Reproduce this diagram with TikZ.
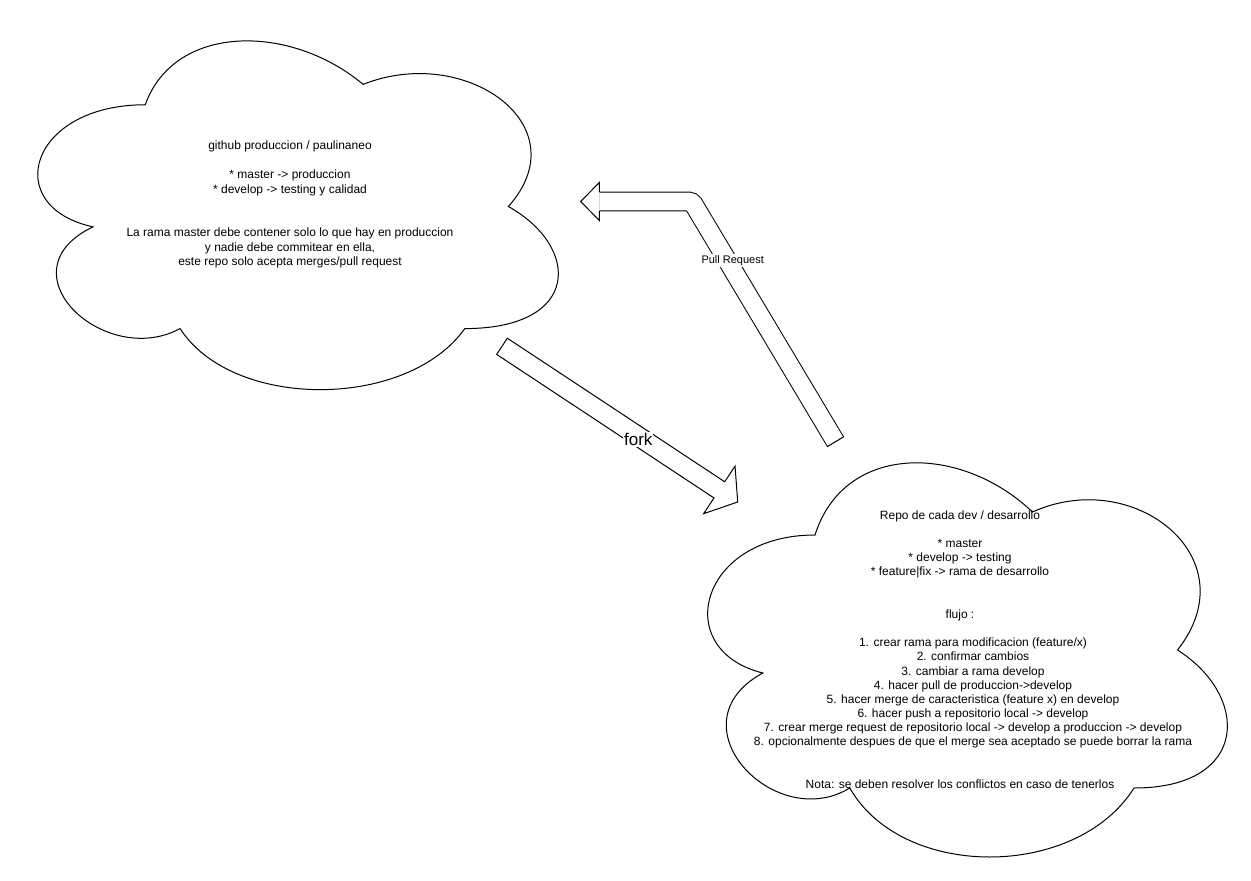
\documentclass[tikz,border=0pt]{standalone}
\usepackage{fontspec}
\setmainfont{Liberation Sans}
\usetikzlibrary{calc}

\tikzset{
  cloudline/.style={draw=black, line width=1pt, fill=white},
  cloudtext/.style={align=center, inner sep=0pt},
  arrowbody/.style={draw=black, line width=1pt, fill=white, line join=miter},
  lbl/.style={fill=white, inner sep=1pt},
}

\newcommand\drawiocloud[1]{%
  \path[cloudline,#1] (0.25,0.25) .. controls (0.05,0.25) and (0,0.5) .. (0.16,0.55)
    .. controls (0,0.66) and (0.18,0.9) .. (0.31,0.8)
    .. controls (0.4,1) and (0.7,1) .. (0.8,0.8)
    .. controls (1,0.8) and (1,0.6) .. (0.875,0.5)
    .. controls (1,0.3) and (0.8,0.1) .. (0.625,0.2)
    .. controls (0.5,0.05) and (0.3,0.05) .. (0.25,0.25) -- cycle;}

\begin{document}
\begin{tikzpicture}[x=1pt, y=-1pt]
\fill[white] (0,0) rectangle (1251,881);
\useasboundingbox (0,0) rectangle (1251,881);

% clouds
\drawiocloud{shift={(0,3)}, xscale=581, yscale=407}
\drawiocloud{shift={(670,420)}, xscale=580, yscale=460}

\node[cloudtext, font=\fontsize{12}{14.5}\selectfont] (prodtext) at (290,204.7) {%
github produccion / paulinaneo\\
\mbox{}\\
* master -> produccion\\
* develop -> testing y calidad\\
\mbox{}\\
\mbox{}\\
La rama master debe contener solo lo que hay en produccion\\
y nadie debe commitear en ella,\\
este repo solo acepta merges/pull request};

\node[cloudtext, font=\fontsize{12}{14.16}\selectfont] (devtext) at (960,649.5) {%
Repo de cada dev / desarrollo\\
\mbox{}\\
* master\\
* develop -> testing\\
* feature|fix -> rama de desarrollo\\
\mbox{}\\
\mbox{}\\
flujo :\\
\mbox{}\\
\hspace*{26pt}1. crear rama para modificacion (feature/x)\\
\hspace*{26pt}2. confirmar cambios\\
\hspace*{26pt}3. cambiar a rama develop\\
\hspace*{26pt}4. hacer pull de produccion->develop\\
\hspace*{26pt}5. hacer merge de caracteristica (feature x) en develop\\
\hspace*{26pt}6. hacer push a repositorio local -> develop\\
\hspace*{26pt}7. crear merge request de repositorio local -> develop a produccion -> develop\\
\hspace*{26pt}8. opcionalmente despues de que el merge sea aceptado se puede borrar la rama\\
\mbox{}\\
\mbox{}\\
Nota: se deben resolver los conflictos en caso de tenerlos};

% fork arrow
\coordinate (forkT) at (502,346.3);
\coordinate (forkP) at (737.7,502);
\coordinate (forkB) at ($(forkP)!22pt!(forkT)$);
\path[arrowbody] ($(forkT)!9.7pt!90:(forkP)$) -- ($(forkB)!9.7pt!90:(forkP)$)
  -- ($(forkB)!28.5pt!90:(forkP)$) -- (forkP) -- ($(forkB)!28.5pt!-90:(forkP)$)
  -- ($(forkB)!9.7pt!-90:(forkP)$) -- ($(forkT)!9.7pt!-90:(forkP)$) -- cycle;
\node[lbl, font=\fontsize{17}{20}\selectfont] (forklbl) at (638.3,439.3) {fork};

% pull request arrow
\coordinate (prT) at (835.5,441.7);
\coordinate (prK) at (692,201.5);
\coordinate (prP) at (580.7,201.5);
\coordinate (prB) at ($(prP)!18.6pt!(prK)$);
\draw[line width=19.7pt, black, rounded corners=3pt] (prT) -- (prK) -- (prB);
\draw[line width=17.7pt, white, rounded corners=3pt] (prT) -- (prK) -- (prB);
\draw[line width=1pt] ($(prT)!9.85pt!90:(prK)$) -- ($(prT)!9.85pt!-90:(prK)$);
\path[arrowbody] ($(prB)!9.35pt!90:(prP)$) -- ($(prB)!19pt!90:(prP)$) -- (prP)
  -- ($(prB)!19pt!-90:(prP)$) -- ($(prB)!9.35pt!-90:(prP)$);
\node[lbl, font=\fontsize{11}{13}\selectfont] (prlbl) at (732.7,260.5) {Pull Request};
\end{tikzpicture}
\end{document}
